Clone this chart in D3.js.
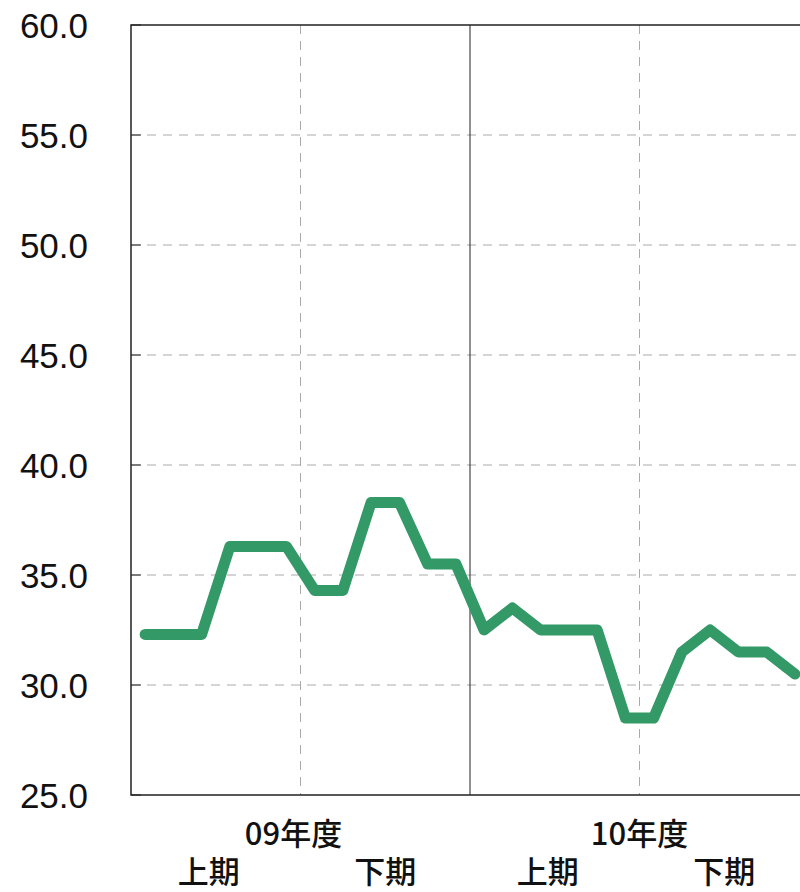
<!DOCTYPE html>
<meta charset="utf-8">
<style>
body { margin: 0; background: #fff; }
.ytick text { font: 35px "Liberation Sans", Arial, sans-serif; fill: #111; }
.xlab { font: 500 31px "Noto Sans CJK JP", sans-serif; fill: #111; }
</style>
<svg width="800" height="892"></svg>
<script src="https://d3js.org/d3.v7.min.js"></script>
<script>

// 24 months, 09年度 + 10年度 (Apr..Mar)
var values = [32.3, 32.3, 32.3, 36.3, 36.3, 36.3, 34.3, 34.3, 38.3, 38.3, 35.5, 35.5,
              32.5, 33.5, 32.5, 32.5, 32.5, 28.5, 28.5, 31.5, 32.5, 31.5, 31.5, 30.5];
var yTicks = [25, 30, 35, 40, 45, 50, 55, 60];
var years = ["09年度", "10年度"];
var halves = ["上期", "下期"];

var svg = d3.select("svg"),
    plotL = 131, plotT = 25, plotB = 795, plotR = 809;

var x = d3.scaleLinear().domain([0, 24]).range([plotL, plotR]);
var y = d3.scaleLinear().domain([25, 60]).range([plotB, plotT]);

// horizontal grid
svg.append("g").selectAll("line")
  .data(yTicks.filter(function(d) { return d > 25 && d < 60; }))
  .enter().append("line")
    .attr("x1", plotL).attr("x2", plotR)
    .attr("y1", function(d) { return y(d); }).attr("y2", function(d) { return y(d); })
    .attr("stroke", "#aaa").attr("stroke-dasharray", "9,7");

// vertical grid, mid-year dashed
svg.append("g").selectAll("line")
  .data([6, 18])
  .enter().append("line")
    .attr("x1", function(d) { return x(d); }).attr("x2", function(d) { return x(d); })
    .attr("y1", plotT).attr("y2", plotB)
    .attr("stroke", "#aaa").attr("stroke-dasharray", "9,7");

// year boundary
svg.append("line")
  .attr("x1", x(12)).attr("x2", x(12)).attr("y1", plotT).attr("y2", plotB)
  .attr("stroke", "#222").attr("stroke-width", 1);

// left ticks (inside)
svg.append("g").selectAll("line")
  .data(yTicks)
  .enter().append("line")
    .attr("x1", plotL).attr("x2", plotL + 10)
    .attr("y1", function(d) { return y(d); }).attr("y2", function(d) { return y(d); })
    .attr("stroke", "#222");

// frame
svg.append("path")
  .attr("d", "M" + plotR + "," + plotT + "H" + plotL + "V" + plotB + "H" + plotR)
  .attr("fill", "none").attr("stroke", "#222").attr("stroke-width", 1.5);

// y labels
svg.append("g").attr("class", "ytick").selectAll("text")
  .data(yTicks)
  .enter().append("text")
    .attr("x", 88).attr("y", function(d) { return y(d); })
    .attr("dy", "0.36em").attr("text-anchor", "end")
    .text(function(d) { return d3.format(".1f")(d); });

// line
var line = d3.line()
  .x(function(d, i) { return x(i + 0.5); })
  .y(function(d) { return y(d); });

svg.append("path")
  .datum(values)
  .attr("d", line)
  .attr("fill", "none")
  .attr("stroke", "#339966")
  .attr("stroke-width", 11)
  .attr("stroke-linejoin", "round")
  .attr("stroke-linecap", "round");

// x labels
svg.append("g").selectAll("text")
  .data(years)
  .enter().append("text")
    .attr("class", "xlab")
    .attr("x", function(d, i) { return x(i * 12 + 6) - 7 + i * 7; })
    .attr("y", 845)
    .attr("text-anchor", "middle")
    .text(function(d) { return d; });

var halfData = [];
years.forEach(function(yr, i) {
  halves.forEach(function(h, j) { halfData.push({ label: h, pos: i * 12 + j * 6 + 3 - (j ? 0 : 0.25) }); });
});

svg.append("g").selectAll("text")
  .data(halfData)
  .enter().append("text")
    .attr("class", "xlab")
    .attr("x", function(d) { return x(d.pos); })
    .attr("y", 883)
    .attr("text-anchor", "middle")
    .text(function(d) { return d.label; });

</script>
